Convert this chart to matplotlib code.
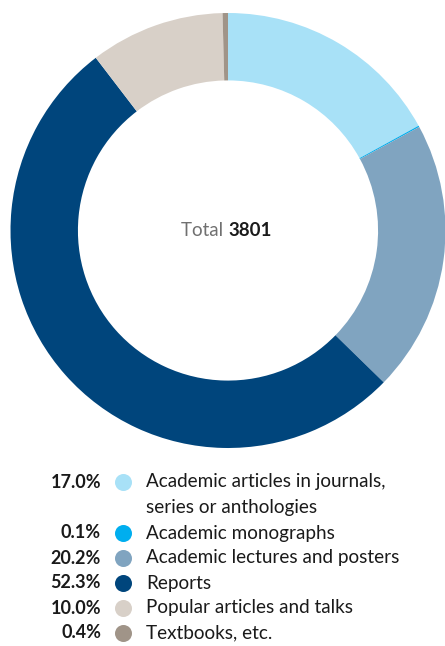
import matplotlib.pyplot as plt

categories = ['Academic articles in journals,\nseries or anthologies',
              'Academic monographs',
              'Academic lectures and posters',
              'Reports',
              'Popular articles and talks',
              'Textbooks, etc.']
shares = [17.0, 0.1, 20.2, 52.3, 10.0, 0.4]
colors = ['#a8e1f7', '#00aeef', '#80a4c0', '#00457c', '#d8d0c8', '#a09488']
total = 3801

plt.rcParams['font.family'] = ['Lato', 'DejaVu Sans']

W, H = 445, 646
fig = plt.figure(figsize=(W / 100, H / 100), dpi=100)

# donut
cx, cy, r = 228, 230.5, 217.5
ax = fig.add_axes([(cx - r) / W, 1 - (cy + r) / H, 2 * r / W, 2 * r / H])
ax.pie(shares, colors=colors, startangle=90, counterclock=False, radius=1,
       wedgeprops=dict(width=0.31, linewidth=0))
ax.set_xlim(-1, 1)
ax.set_ylim(-1, 1)
ax.set_aspect('equal')
ax.axis('off')
ax.text(0, 0, 'Total ', ha='right', va='center', fontsize=13.5,
        color='#707070')
ax.text(0, 0, f'{total}', ha='left', va='center', fontsize=13.5,
        color='#1a1a1a', fontweight='bold')

# legend
lg = fig.add_axes([0, 0, 1, 1])
lg.set_xlim(0, W)
lg.set_ylim(H, 0)
lg.axis('off')
rows = [482, 533, 558, 583, 608, 633]
line_gap = 25
for y, lab, val, c in zip(rows, categories, shares, colors):
    lg.text(101, y, f'{val:.1f}%', ha='right', va='center', fontsize=13,
            fontweight='bold', color='#1a1a1a')
    lg.scatter([123], [y], s=150, color=c, linewidths=0)
    for i, part in enumerate(lab.split('\n')):
        lg.text(146, y + i * line_gap, part, ha='left', va='center',
                fontsize=13.6, color='#1a1a1a')

fig.savefig('out.png', dpi=100)
